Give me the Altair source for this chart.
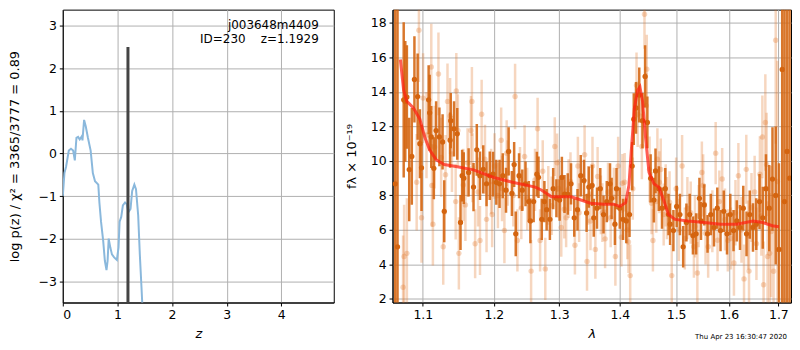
import altair as alt
import pandas as pd

FONT = "DejaVu Sans"

# ---------------- left panel: log p(z) ----------------
z_grid = [0.00, 0.03, 0.06, 0.11, 0.15, 0.19, 0.22, 0.25, 0.28, 0.31,
          0.35, 0.36, 0.39, 0.42, 0.46, 0.51, 0.55, 0.59, 0.65, 0.67,
          0.70, 0.74, 0.77, 0.80, 0.82, 0.84, 0.87, 0.90, 0.94, 0.99,
          1.02, 1.04, 1.07, 1.10, 1.14, 1.17, 1.20, 1.24, 1.27, 1.31,
          1.34, 1.38, 1.41, 1.44, 1.46, 1.50]
logpz = [-1.00, -0.46, -0.31, 0.07, 0.11, 0.07, -0.16, 0.37, 0.39, 0.33,
         0.41, 0.31, 0.79, 0.64, 0.37, 0.07, -0.46, -0.65, -0.73, -1.15,
         -1.60, -2.06, -2.52, -2.74, -2.52, -2.00, -2.21, -2.37, -2.44, -2.50,
         -2.21, -1.60, -1.49, -1.22, -1.15, -1.19, -1.38, -1.30, -0.88, -0.73,
         -0.84, -1.45, -2.37, -3.13, -3.66, -4.50]
z_best = 1.1929
best_top = 2.5
label_line1 = "j003648m4409"
label_line2 = "ID=230\u00a0\u00a0\u00a0\u00a0z=1.1929"

# ---------------- right panel: spectrum ----------------
model_wave = [1.0702, 1.0745, 1.0788, 1.0875, 1.0961, 1.1026, 1.1092, 1.1181, 1.1293, 1.1475,
              1.1704, 1.2000, 1.2276, 1.2624, 1.2724, 1.2876, 1.3193, 1.3507, 1.3725, 1.3890,
              1.4000, 1.4101, 1.4158, 1.4196, 1.4253, 1.4311, 1.4350, 1.4396, 1.4453, 1.4510,
              1.4598, 1.4685, 1.4772, 1.4860, 1.4979, 1.5219, 1.5526, 1.5837, 1.6154, 1.6479,
              1.6676, 1.6876, 1.7010]
model_flux = [15.88, 14.10, 13.45, 13.07, 12.42, 11.39, 10.64, 10.07, 9.79, 9.66,
              9.48, 9.04, 8.76, 8.48, 8.30, 7.92, 7.92, 7.55, 7.49, 7.49,
              7.36, 7.58, 8.58, 10.45, 13.07, 14.10, 14.29, 13.45, 11.20, 9.33,
              8.67, 8.48, 7.73, 6.89, 6.61, 6.52, 6.43, 6.33, 6.33, 6.52,
              6.43, 6.24, 6.18]

dark_wave = [1.0635, 1.0665, 1.0746, 1.0767, 1.0788, 1.0819, 1.0853, 1.0888, 1.0931, 1.0961,
             1.0983, 1.1079, 1.1093, 1.1115, 1.1150, 1.1181, 1.1226, 1.1270, 1.1293, 1.1374,
             1.1383, 1.1429, 1.1474, 1.1520, 1.1543, 1.1566, 1.1635, 1.1705, 1.1752, 1.1798,
             1.1845, 1.1893, 1.1940, 1.1988, 1.2036, 1.2084, 1.2132, 1.2180, 1.2219, 1.2268,
             1.2302, 1.2326, 1.2376, 1.2425, 1.2474, 1.2524, 1.2549, 1.2599, 1.2649, 1.2674,
             1.2725, 1.2766, 1.2801, 1.2852, 1.2904, 1.2955, 1.3006, 1.3042, 1.3084, 1.3136,
             1.3189, 1.3241, 1.3294, 1.3347, 1.3400, 1.3443, 1.3480, 1.3534, 1.3561, 1.3615,
             1.3670, 1.3724, 1.3779, 1.3834, 1.3861, 1.3917, 1.3944, 1.4000, 1.4056, 1.4112,
             1.4168, 1.4214, 1.4242, 1.4281, 1.4338, 1.4395, 1.4441, 1.4481, 1.4539, 1.4597,
             1.4626, 1.4685, 1.4743, 1.4802, 1.4861, 1.4890, 1.4950, 1.5010, 1.5070, 1.5130,
             1.5190, 1.5251, 1.5312, 1.5372, 1.5434, 1.5464, 1.5526, 1.5588, 1.5650, 1.5712,
             1.5775, 1.5838, 1.5901, 1.5964, 1.6028, 1.6092, 1.6156, 1.6220, 1.6285, 1.6350,
             1.6415, 1.6480, 1.6546, 1.6612, 1.6678, 1.6744, 1.6811, 1.6878, 1.6945, 1.7012,
             1.7080, 1.7128, 1.7182, 1.7235]
dark_flux = [8.67, 5.02, 13.54, 13.45, 13.70, 9.50, 10.26, 14.72, 13.73, 11.00,
             9.60, 13.54, 12.79, 11.39, 9.57, 11.76, 11.39, 11.10, 7.08, 11.20,
             12.33, 11.86, 11.57, 6.43, 9.14, 9.00, 9.33, 8.48, 10.64, 9.14,
             9.51, 8.67, 9.14, 9.23, 8.76, 8.67, 9.14, 8.30, 10.55, 8.11,
             9.79, 5.77, 9.14, 8.30, 8.67, 7.64, 6.52, 7.64, 9.23, 9.05,
             6.61, 7.64, 7.17, 6.61, 8.39, 7.83, 7.73, 9.04, 8.08, 8.08,
             8.67, 6.70, 7.17, 9.14, 8.86, 6.98, 8.48, 8.58, 6.70, 7.26,
             8.39, 6.89, 7.64, 8.67, 7.83, 6.33, 8.39, 7.26, 6.61, 6.52,
             6.89, 9.70, 12.42, 13.07, 13.82, 12.33, 14.90, 12.23, 8.99, 7.73,
             9.42, 8.39, 7.26, 8.39, 6.89, 6.33, 5.96, 7.36, 6.89, 5.02,
             6.43, 6.89, 5.67, 5.77, 7.83, 6.52, 7.45, 5.77, 6.89, 6.14,
             7.26, 5.96, 7.08, 5.77, 6.89, 5.96, 6.52, 6.14, 7.26, 5.77,
             6.89, 6.14, 6.33, 7.64, 6.70, 8.39, 7.26, 8.95, 8.00, 4.87,
             15.30, 7.64, 10.55, 9.00]
dark_err = [30.0, 30.0, 4.5, 3.5, 3.0, 3.0, 2.8, 2.5, 2.5, 2.0,
            2.5, 2.0, 2.2, 1.8, 1.8, 1.7, 1.7, 1.6, 1.8, 1.6,
            1.6, 1.6, 1.5, 1.6, 1.5, 1.5, 1.4, 1.4, 1.5, 1.4,
            1.4, 1.3, 1.4, 1.3, 1.3, 1.4, 1.3, 1.3, 1.4, 1.3,
            1.3, 1.3, 1.3, 1.2, 1.3, 1.2, 1.3, 1.2, 1.3, 1.2,
            1.2, 1.2, 1.2, 1.2, 1.2, 1.1, 1.2, 1.2, 1.1, 1.2,
            1.2, 1.1, 1.2, 1.2, 1.2, 1.1, 1.2, 1.2, 1.1, 1.2,
            1.2, 1.1, 1.2, 1.2, 1.2, 1.2, 1.2, 1.2, 1.2, 1.3,
            1.3, 1.4, 1.5, 1.5, 1.6, 1.6, 1.8, 1.5, 1.4, 1.3,
            1.3, 1.3, 1.2, 1.2, 1.2, 1.2, 1.2, 1.2, 1.2, 1.2,
            1.1, 1.2, 1.1, 1.2, 1.2, 1.1, 1.2, 1.1, 1.2, 1.1,
            1.2, 1.2, 1.2, 1.2, 1.2, 1.2, 1.2, 1.3, 1.3, 1.3,
            1.4, 1.4, 1.5, 1.6, 1.8, 2.0, 2.5, 3.0, 4.0, 5.0,
            30.0, 30.0, 30.0, 30.0]

light_wave = [1.0738, 1.0751, 1.0788, 1.0918, 1.0948, 1.0983, 1.1004, 1.1050, 1.1115, 1.1124,
              1.1137, 1.1160, 1.1213, 1.1250, 1.1279, 1.1310, 1.1338, 1.1374, 1.1400, 1.1452,
              1.1461, 1.1483, 1.1497, 1.1560, 1.1589, 1.1620, 1.1668, 1.1682, 1.1690, 1.1728,
              1.1770, 1.1798, 1.1822, 1.1870, 1.1893, 1.1960, 1.1975, 1.2010, 1.2060, 1.2108,
              1.2120, 1.2156, 1.2190, 1.2205, 1.2290, 1.2316, 1.2351, 1.2390, 1.2410, 1.2460,
              1.2500, 1.2560, 1.2620, 1.2660, 1.2699, 1.2740, 1.2780, 1.2827, 1.2880, 1.2929,
              1.2965, 1.2990, 1.3032, 1.3080, 1.3110, 1.3150, 1.3180, 1.3252, 1.3300, 1.3320,
              1.3410, 1.3450, 1.3470, 1.3507, 1.3540, 1.3588, 1.3625, 1.3680, 1.3705, 1.3751,
              1.3800, 1.3845, 1.3900, 1.3925, 1.3972, 1.4028, 1.4045, 1.4084, 1.4130, 1.4150,
              1.4180, 1.4225, 1.4290, 1.4310, 1.4384, 1.4430, 1.4460, 1.4470, 1.4520, 1.4556,
              1.4580, 1.4640, 1.4660, 1.4695, 1.4720, 1.4773, 1.4810, 1.4832, 1.4880, 1.4920,
              1.5000, 1.5050, 1.5110, 1.5160, 1.5208, 1.5270, 1.5330, 1.5350, 1.5395, 1.5420,
              1.5480, 1.5505, 1.5550, 1.5600, 1.5680, 1.5744, 1.5780, 1.5815, 1.5870, 1.5925,
              1.5980, 1.6040, 1.6100, 1.6130, 1.6188, 1.6250, 1.6300, 1.6345, 1.6380, 1.6400,
              1.6450, 1.6513, 1.6550, 1.6620, 1.6650, 1.6670, 1.6695, 1.6731, 1.6757, 1.6777,
              1.6820, 1.6850, 1.6900, 1.6945, 1.6980]
light_flux = [2.68, 4.46, 4.64, 8.76, 17.57, 6.70, 13.64, 11.50, 15.45, 8.58,
              6.33, 10.80, 15.04, 10.20, 5.02, 9.20, 13.45, 12.60, 10.40, 7.64,
              14.05, 11.76, 4.64, 8.60, 7.45, 9.90, 11.76, 13.45, 9.60, 5.20,
              8.20, 5.39, 12.70, 10.10, 6.61, 8.80, 6.89, 9.70, 8.00, 11.20,
              8.40, 5.96, 10.45, 9.30, 8.00, 13.73, 5.39, 9.00, 7.26, 10.26,
              7.80, 3.61, 8.90, 11.86, 5.39, 9.40, 3.74, 8.00, 7.40, 10.83,
              9.89, 8.40, 6.14, 7.20, 6.70, 8.39, 8.80, 5.11, 9.70, 7.00,
              10.36, 4.17, 8.00, 6.52, 9.70, 4.87, 9.10, 7.45, 7.00, 5.48,
              8.20, 6.70, 7.90, 4.46, 9.70, 5.58, 8.70, 8.76, 6.00, 5.30,
              3.35, 8.39, 14.38, 12.70, 10.83, 18.50, 13.20, 15.32, 9.51, 7.55,
              5.39, 7.64, 10.10, 8.76, 9.50, 6.89, 8.00, 7.26, 7.60, 3.35,
              8.39, 6.00, 9.70, 5.50, 7.26, 7.00, 5.02, 6.20, 3.50, 6.80,
              9.33, 8.58, 5.80, 5.02, 6.50, 10.45, 5.40, 7.64, 8.95, 6.60,
              5.39, 5.50, 4.08, 7.00, 9.14, 6.00, 3.16, 9.51, 5.70, 3.61,
              7.30, 8.20, 5.20, 9.23, 6.80, 11.39, 2.82, 12.23, 9.79, 4.46,
              4.64, 5.90, 3.60, 17.00, 8.80]
light_err = [3.0, 3.0, 3.2, 2.8, 3.0, 2.6, 2.6, 2.5, 2.5, 2.4,
             2.4, 2.4, 2.4, 2.3, 2.2, 2.3, 2.2, 2.2, 2.2, 2.2,
             2.2, 2.1, 2.1, 2.1, 2.1, 2.0, 2.0, 2.0, 2.0, 2.0,
             2.0, 2.0, 2.0, 2.0, 1.9, 1.9, 1.9, 1.9, 1.9, 1.9,
             1.9, 1.9, 1.9, 1.9, 1.8, 1.9, 1.8, 1.8, 1.8, 1.8,
             1.8, 1.8, 1.8, 1.8, 1.8, 1.8, 1.8, 1.7, 1.7, 1.7,
             1.7, 1.7, 1.7, 1.7, 1.7, 1.7, 1.7, 1.7, 1.7, 1.7,
             1.7, 1.7, 1.7, 1.7, 1.7, 1.7, 1.7, 1.7, 1.7, 1.7,
             1.7, 1.7, 1.7, 1.7, 1.7, 1.7, 1.7, 1.7, 1.7, 1.8,
             1.8, 1.8, 1.9, 1.9, 1.9, 2.0, 1.9, 2.0, 1.9, 1.8,
             1.8, 1.8, 1.8, 1.8, 1.8, 1.8, 1.8, 1.8, 1.8, 1.8,
             1.8, 1.8, 1.8, 1.8, 1.8, 1.8, 1.8, 1.8, 1.8, 1.8,
             1.8, 1.8, 1.8, 1.8, 1.8, 1.8, 1.8, 1.8, 1.8, 1.8,
             1.8, 1.8, 1.9, 1.9, 1.9, 1.9, 2.0, 2.0, 2.0, 2.0,
             2.0, 2.1, 2.1, 2.2, 2.3, 2.4, 2.5, 2.8, 3.0, 3.2,
             3.5, 3.8, 4.5, 6.0, 7.0]

timestamp = "Thu Apr 23 16:30:47 2020"

# ---------------- data tables ----------------
pz_df = pd.DataFrame({"z": z_grid, "logp": logpz})
best_df = pd.DataFrame({"z": [z_best], "lo": [-5.0], "hi": [best_top]})
lab1_df = pd.DataFrame({"t": [label_line1]})
lab2_df = pd.DataFrame({"t": [label_line2]})

model_df = pd.DataFrame({"wave": model_wave, "flux": model_flux})
dark_df = pd.DataFrame({"wave": dark_wave, "flux": dark_flux, "err": dark_err})
dark_df["lo"] = dark_df["flux"] - dark_df["err"]
dark_df["hi"] = dark_df["flux"] + dark_df["err"]
light_df = pd.DataFrame({"wave": light_wave, "flux": light_flux, "err": light_err})
light_df["lo"] = light_df["flux"] - light_df["err"]
light_df["hi"] = light_df["flux"] + light_df["err"]
ts_df = pd.DataFrame({"t": [timestamp]})

# ---------------- left chart ----------------
LW, LH = 272, 294
z_scale = alt.Scale(domain=[0, 4.96], nice=False, zero=False)
p_scale = alt.Scale(domain=[-3.5, 3.38], nice=False, zero=False)
z_axis = alt.Axis(values=[0, 1, 2, 3, 4], title="z", titleFontStyle="italic", titlePadding=6)
p_axis = alt.Axis(values=[-3, -2, -1, 0, 1, 2, 3],
                  title="log p(z) / χ² = 3365/3777 = 0.89",
                  minExtent=22, maxExtent=22, titlePadding=19)

pz_line = alt.Chart(pz_df).mark_line(color="#8ab8dc", strokeWidth=2, clip=True).encode(
    x=alt.X("z:Q", scale=z_scale, axis=z_axis),
    y=alt.Y("logp:Q", scale=p_scale, axis=p_axis))
best_rule = alt.Chart(best_df).mark_rule(color="#444444", strokeWidth=3, clip=True).encode(
    x=alt.X("z:Q", scale=z_scale, axis=z_axis),
    y=alt.Y("lo:Q", scale=p_scale, axis=p_axis), y2="hi:Q")
lab1 = alt.Chart(lab1_df).mark_text(align="right", baseline="middle", fontSize=12,
                                    font=FONT, color="black").encode(
    x=alt.value(257), y=alt.value(15), text="t:N")
lab2 = alt.Chart(lab2_df).mark_text(align="right", baseline="middle", fontSize=12,
                                    font=FONT, color="black").encode(
    x=alt.value(257), y=alt.value(29), text="t:N")

left = alt.layer(pz_line, best_rule, lab1, lab2).properties(width=LW, height=LH)

# ---------------- right chart ----------------
RW, RH = 400, 294
w_scale = alt.Scale(type="log", domain=[1.06, 1.7265], nice=False, zero=False)
f_scale = alt.Scale(domain=[1.79, 18.77], nice=False, zero=False)
w_axis = alt.Axis(values=[1.1, 1.2, 1.3, 1.4, 1.5, 1.6, 1.7], format=".1f",
                  title="λ", titleFontStyle="italic", titlePadding=6)
f_axis = alt.Axis(values=[2, 4, 6, 8, 10, 12, 14, 16, 18], title="fλ × 10⁻¹⁹",
                  minExtent=24, maxExtent=24, titlePadding=10, labelOverlap=False)

ORANGE = "#d4640f"
LIGHT = "#e0782a"


def xw():
    return alt.X("wave:Q", scale=w_scale, axis=w_axis)


def yf(field):
    return alt.Y(field, scale=f_scale, axis=f_axis)


light_bars = alt.Chart(light_df).mark_rule(color=LIGHT, opacity=0.3, strokeWidth=2.5,
                                           clip=True).encode(
    x=xw(), y=yf("lo:Q"), y2="hi:Q")
light_pts = alt.Chart(light_df).mark_circle(color=LIGHT, opacity=0.3, size=30,
                                            clip=True).encode(x=xw(), y=yf("flux:Q"))
dark_bars = alt.Chart(dark_df).mark_rule(color=ORANGE, opacity=0.88, strokeWidth=2.5,
                                         clip=True).encode(x=xw(), y=yf("lo:Q"), y2="hi:Q")
dark_pts = alt.Chart(dark_df).mark_circle(color=ORANGE, opacity=1.0, size=28,
                                          clip=True).encode(x=xw(), y=yf("flux:Q"))
model_line = alt.Chart(model_df).mark_line(color="#ff1e10", opacity=0.72, strokeWidth=3,
                                           clip=True).encode(x=xw(), y=yf("flux:Q"))
ts_text = alt.Chart(ts_df).mark_text(align="right", baseline="middle", fontSize=7,
                                     font=FONT, color="black").encode(
    x=alt.value(396), y=alt.value(329), text="t:N")

right = alt.layer(light_bars, light_pts, dark_bars, dark_pts, model_line, ts_text).properties(
    width=RW, height=RH)

chart = alt.hconcat(left, right, spacing=10).properties(
    padding={"left": 0, "right": 0, "top": 0, "bottom": 0}
).configure_view(stroke="black", strokeWidth=1).configure_axis(
    grid=True, gridColor="#b0b0b0", gridWidth=1, gridOpacity=1,
    domainColor="black", tickColor="black", tickSize=3.5,
    labelFont=FONT, titleFont=FONT, labelFontSize=12.5, titleFontSize=13,
    labelColor="black", titleColor="black", titleFontWeight="normal", labelPadding=3
)

chart.save("out.html", embed_options={"renderer": "svg", "actions": False})
